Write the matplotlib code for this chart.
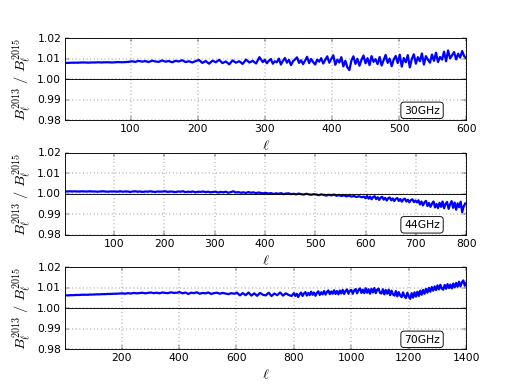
import matplotlib
matplotlib.use("Agg")
import matplotlib.pyplot as plt
import numpy as np

# Razao dos beams 2013/2015
# (passo mais fino onde o ruido e maior)
ell_30 = np.concatenate([np.arange(2, 300, 5), np.arange(300, 601, 3)])
ratio_30 = [
    1.0080, 1.0080, 1.0081, 1.0081, 1.0081, 1.0082, 1.0082, 1.0081, 1.0082, 1.0082,
    1.0083, 1.0082, 1.0083, 1.0083, 1.0082, 1.0083, 1.0084, 1.0083, 1.0084, 1.0085,
    1.0088, 1.0085, 1.0090, 1.0086, 1.0089, 1.0084, 1.0091, 1.0087, 1.0085, 1.0092,
    1.0086, 1.0089, 1.0083, 1.0090, 1.0087, 1.0093, 1.0084, 1.0088, 1.0082, 1.0089,
    1.0094, 1.0080, 1.0089, 1.0076, 1.0091, 1.0083, 1.0095, 1.0079, 1.0087, 1.0073,
    1.0092, 1.0081, 1.0088, 1.0075, 1.0096, 1.0082, 1.0090, 1.0077, 1.0108, 1.0084,
    # 300-399
    1.0095, 1.0078, 1.0090, 1.0099, 1.0076, 1.0088, 1.0083, 1.0101, 1.0072, 1.0090,
    1.0104, 1.0081, 1.0095, 1.0069, 1.0088, 1.0097, 1.0107, 1.0080, 1.0093, 1.0074,
    1.0091, 1.0110, 1.0079, 1.0099, 1.0084, 1.0072, 1.0096, 1.0086, 1.0103, 1.0077,
    1.0094, 1.0112, 1.0081, 1.0099,
    # 402-498
    1.0117, 1.0071, 1.0096, 1.0082, 1.0108, 1.0063, 1.0090, 1.0058, 1.0045, 1.0091,
    1.0112, 1.0075, 1.0100, 1.0066, 1.0094, 1.0116, 1.0078, 1.0103, 1.0069, 1.0113,
    1.0085, 1.0098, 1.0074, 1.0109, 1.0067, 1.0093, 1.0119, 1.0080, 1.0101, 1.0064,
    1.0096, 1.0114, 1.0079,
    # 501-600
    1.0120, 1.0062, 1.0104, 1.0083, 1.0118, 1.0058, 1.0099, 1.0122, 1.0076, 1.0108,
    1.0088, 1.0126, 1.0072, 1.0113, 1.0095, 1.0081, 1.0121, 1.0090, 1.0130, 1.0084,
    1.0109, 1.0096, 1.0135, 1.0088, 1.0141, 1.0102, 1.0118, 1.0133, 1.0097, 1.0125,
    1.0106, 1.0138, 1.0112, 1.0104,
]

ell_44 = np.concatenate([np.arange(2, 600, 5), np.arange(600, 801, 3)])
ratio_44 = [
    1.0012, 1.0011, 1.0012, 1.0011, 1.0012, 1.0011, 1.0011, 1.0012, 1.0011, 1.0011,
    1.0012, 1.0011, 1.0011, 1.0010, 1.0011, 1.0012, 1.0011, 1.0010, 1.0011, 1.0011,
    1.0011, 1.0010, 1.0012, 1.0010, 1.0011, 1.0011, 1.0009, 1.0011, 1.0012, 1.0010,
    1.0011, 1.0009, 1.0011, 1.0010, 1.0012, 1.0010, 1.0009, 1.0011, 1.0010, 1.0011,
    1.0012, 1.0009, 1.0011, 1.0010, 1.0008, 1.0011, 1.0010, 1.0012, 1.0008, 1.0010,
    1.0009, 1.0011, 1.0007, 1.0010, 1.0009, 1.0011, 1.0008, 1.0010, 1.0007, 1.0009,
    1.0010, 1.0006, 1.0009, 1.0007, 1.0010, 1.0005, 1.0008, 1.0012, 1.0006, 1.0008,
    1.0005, 1.0007, 1.0004, 1.0008, 1.0005, 1.0007, 1.0003, 1.0006, 1.0004, 1.0002,
    1.0004, 1.0001, 1.0003, 0.9999, 1.0002, 1.0000, 1.0003, 0.9998, 1.0001, 1.0002,
    0.9998, 1.0000, 0.9997, 1.0001, 0.9998, 0.9996, 1.0000, 0.9997, 0.9995, 0.9998,
    0.9996, 0.9993, 0.9997, 0.9994, 0.9991, 0.9995, 0.9992, 0.9996, 0.9990, 0.9993,
    0.9989, 0.9992, 0.9987, 0.9991, 0.9986, 0.9989, 0.9984, 0.9988, 0.9983, 0.9986,
    # 600-699
    0.9978, 0.9989, 0.9976, 0.9986, 0.9973, 0.9984, 0.9988, 0.9974, 0.9983, 0.9970,
    0.9981, 0.9985, 0.9971, 0.9980, 0.9967, 0.9978, 0.9982, 0.9968, 0.9977, 0.9964,
    0.9975, 0.9979, 0.9965, 0.9974, 0.9961, 0.9972, 0.9976, 0.9962, 0.9971, 0.9958,
    0.9969, 0.9973, 0.9959, 0.9967,
    # 702-798
    0.9958, 0.9968, 0.9948, 0.9962, 0.9943, 0.9958, 0.9965, 0.9940, 0.9955, 0.9936,
    0.9952, 0.9962, 0.9933, 0.9950, 0.9930, 0.9956, 0.9936, 0.9962, 0.9929, 0.9951,
    0.9960, 0.9926, 0.9948, 0.9964, 0.9931, 0.9957, 0.9922, 0.9953, 0.9934, 0.9961,
    0.9910, 0.9938, 0.9952,
]

ell_70 = np.concatenate([np.arange(2, 800, 10), np.arange(800, 1401, 5)])
ratio_70 = [
    1.0063, 1.0063, 1.0064, 1.0064, 1.0065, 1.0065, 1.0066, 1.0066, 1.0066, 1.0067,
    1.0067, 1.0068, 1.0068, 1.0069, 1.0069, 1.0070, 1.0070, 1.0071, 1.0071, 1.0072,
    1.0073, 1.0071, 1.0074, 1.0072, 1.0075, 1.0073, 1.0074, 1.0076, 1.0073, 1.0075,
    1.0077, 1.0074, 1.0076, 1.0073, 1.0077, 1.0075, 1.0074, 1.0078, 1.0075, 1.0076,
    1.0079, 1.0073, 1.0077, 1.0070, 1.0076, 1.0074, 1.0078, 1.0071, 1.0075, 1.0073,
    1.0077, 1.0070, 1.0074, 1.0076, 1.0071, 1.0075, 1.0072, 1.0069, 1.0074, 1.0071,
    1.0076, 1.0063, 1.0074, 1.0064, 1.0077, 1.0062, 1.0073, 1.0061, 1.0075, 1.0066,
    1.0063, 1.0076, 1.0060, 1.0072, 1.0064, 1.0077, 1.0062, 1.0073, 1.0065, 1.0060,
    # 800-995
    1.0074, 1.0060, 1.0071, 1.0055, 1.0068, 1.0077, 1.0060, 1.0072, 1.0079, 1.0062,
    1.0075, 1.0064, 1.0081, 1.0066, 1.0077, 1.0061, 1.0075, 1.0083, 1.0065, 1.0078,
    1.0068, 1.0084, 1.0067, 1.0080, 1.0087, 1.0069, 1.0082, 1.0071, 1.0088, 1.0070,
    1.0084, 1.0068, 1.0087, 1.0072, 1.0090, 1.0070, 1.0085, 1.0092, 1.0071, 1.0086,
    # 1000-1195
    1.0090, 1.0071, 1.0087, 1.0094, 1.0073, 1.0090, 1.0097, 1.0075, 1.0091, 1.0074,
    1.0098, 1.0076, 1.0093, 1.0071, 1.0095, 1.0077, 1.0099, 1.0074, 1.0091, 1.0096,
    1.0075, 1.0072, 1.0093, 1.0068, 1.0089, 1.0071, 1.0091, 1.0064, 1.0086, 1.0068,
    1.0062, 1.0084, 1.0058, 1.0079, 1.0063, 1.0054, 1.0078, 1.0059, 1.0050, 1.0076,
    # 1200-1400
    1.0058, 1.0046, 1.0074, 1.0052, 1.0078, 1.0057, 1.0081, 1.0060, 1.0086, 1.0066,
    1.0090, 1.0071, 1.0095, 1.0076, 1.0100, 1.0081, 1.0104, 1.0086, 1.0107, 1.0089,
    1.0112, 1.0092, 1.0115, 1.0096, 1.0091, 1.0114, 1.0095, 1.0118, 1.0099, 1.0116,
    1.0097, 1.0121, 1.0102, 1.0124, 1.0105, 1.0130, 1.0107, 1.0127, 1.0136, 1.0110,
    1.0124,
]

paineis = [
    (ell_30, ratio_30, 600, "30GHz"),
    (ell_44, ratio_44, 800, "44GHz"),
    (ell_70, ratio_70, 1400, "70GHz"),
]

plt.style.use("classic")
fig, axes = plt.subplots(3, 1, figsize=(8, 6), dpi=64.75)
fig.subplots_adjust(left=0.125, right=0.9, bottom=0.1, top=0.9, hspace=0.4)

for ax, (ell, ratio, lmax, nome) in zip(axes, paineis):
    ax.plot(ell, ratio, color="b", lw=2.5)
    ax.axhline(1.0, color="k", lw=1)
    ax.set_xlim(ell[0], lmax)
    ax.set_ylim(0.98, 1.02)
    ax.set_yticks([0.98, 0.99, 1.00, 1.01, 1.02])
    ax.yaxis.set_major_formatter(matplotlib.ticker.FormatStrFormatter("%.2f"))
    ax.grid(True)
    ax.set_xlabel(r"$\ell$", fontsize=16)
    ax.set_ylabel(r"$B_\ell^{2013}\ /\ B_\ell^{2015}$", fontsize=16)
    ax.text(0.89, 0.12, nome, transform=ax.transAxes, ha="center", va="center",
            fontsize=12, bbox=dict(boxstyle="round", fc="w", ec="k"))

fig.savefig("out.png", dpi=64.75)
plt.close()
